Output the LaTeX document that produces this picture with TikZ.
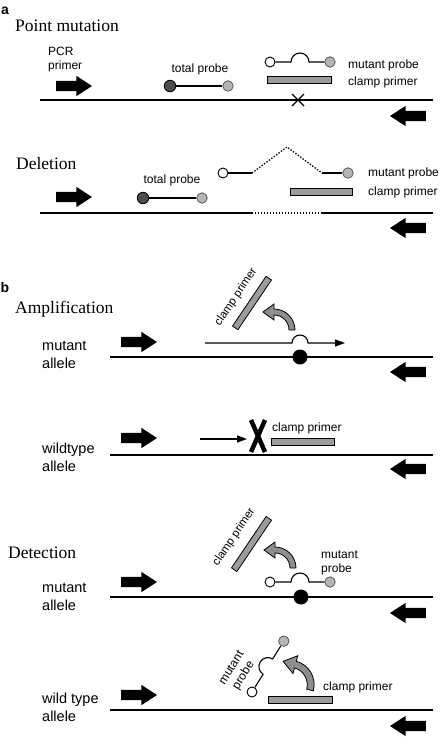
\documentclass[tikz,border=0pt]{standalone}
\usepackage{fontspec}
\setmainfont{Liberation Serif}
\setsansfont{Liberation Sans}
\usetikzlibrary{shapes.arrows,arrows.meta,calc}
\definecolor{clampgray}{HTML}{9C9C9C}
\definecolor{darkprobe}{HTML}{4D4D4D}
\definecolor{lightprobe}{HTML}{B4B4B4}
\definecolor{curvegray}{HTML}{8E8E8E}
\begin{document}
\begin{tikzpicture}[x=1pt,y=1pt,
  lab/.style={font=\sffamily\fontsize{12}{14}\selectfont, inner sep=0pt},
  allele/.style={font=\sffamily\fontsize{14.5}{18}\selectfont, inner sep=0pt, align=left, anchor=west},
  heading/.style={font=\rmfamily\fontsize{17.5}{20}\selectfont, inner sep=0pt, anchor=base west},
  tag/.style={font=\sffamily\bfseries\fontsize{14}{16}\selectfont, inner sep=0pt},
  dna/.style={line width=1.6pt},
  probe/.style={line width=1.1pt},
  dotline/.style={line width=1.3pt, dash pattern=on 1.4pt off 1.6pt},
  bigR/.style={single arrow, fill=black, draw=none, inner sep=5pt, minimum width=0pt,
    minimum height=36pt, single arrow head extend=5pt, single arrow tip angle=66,
    single arrow head indent=0pt},
  bigL/.style={bigR, shape border rotate=180},
  clampbox/.style={draw=black, fill=clampgray, line width=0.8pt, minimum height=7pt, inner sep=0pt},
  ocirc/.style={circle, draw=black, fill=white, line width=0.9pt, minimum size=10pt, inner sep=0pt},
  gcirc/.style={circle, draw=black!70, fill=lightprobe, line width=0.7pt, minimum size=10.5pt, inner sep=0pt},
  dcirc/.style={circle, draw=black, fill=darkprobe, line width=0.8pt, minimum size=11.5pt, inner sep=0pt},
  bdot/.style={circle, fill=black, minimum size=15pt, inner sep=0pt},
  thinarrow/.style={line width=1.1pt, -{Triangle[length=10pt,width=7pt]}},
  pics/mprobe/.style={code={
    \node[ocirc] (-o) at (0,0) {};
    \node[gcirc] (-g) at (60,0) {};
    \draw[probe] (-o) -- (21,0) arc[start angle=180,end angle=0,radius=9] -- (-g);
  }},
  pics/curv/.style={code={
    \filldraw[fill=curvegray, draw=black, line width=0.8pt]
      (0:21) arc[start angle=0,end angle=90,radius=21] -- (90:26) -- (-11,18)
      -- (90:10) -- (90:15) arc[start angle=90,end angle=0,radius=15] -- cycle;
  }}
]
\useasboundingbox (0,0) rectangle (440,-737);

% ---------------- panel a ----------------
\node[tag] (ta) at (5,-11) {a};
\node[heading] (h1) at (15,-31) {Point mutation};
\node[lab, align=left, anchor=west] (pcr) at (48,-60) {PCR\\primer};
\node[bigR] (a1r) at (70,-86) {};
\node[bigL] (a1l) at (412,-116) {};
\coordinate (a1s) at (40,-100);
\coordinate (a1e) at (433,-100);
\draw[dna] (a1s) -- (a1e);
\node[lab] (tp1) at (200,-69) {total probe};
\node[dcirc] (tp1d) at (170,-86) {};
\node[gcirc] (tp1g) at (228,-86) {};
\draw[probe] (tp1d) -- (tp1g);
\pic (mp1) at (270,-62) {mprobe};
\node[clampbox, minimum width=64pt] (cp1) at (299,-80) {};
\node[lab, anchor=west] (mpl1) at (348,-65) {mutant probe};
\node[lab, anchor=west] (cpl1) at (348,-82) {clamp primer};
\coordinate (x1) at (298,-100);
\draw[line width=1.2pt] ($(x1)+(-6,6)$) -- ($(x1)+(6,-6)$) ($(x1)+(-6,-6)$) -- ($(x1)+(6,6)$);

\node[heading] (h2) at (16,-169) {Deletion};
\node[bigR] (a2r) at (70,-197) {};
\node[bigL] (a2l) at (412,-228) {};
\coordinate (a2s) at (40,-213);
\coordinate (a2m1) at (252,-213);
\coordinate (a2m2) at (322,-213);
\coordinate (a2e) at (433,-213);
\draw[dna] (a2s) -- (a2m1);
\draw[dotline] (a2m1) -- (a2m2);
\draw[dna] (a2m2) -- (a2e);
\node[lab] (tp2) at (172,-180) {total probe};
\node[dcirc] (tp2d) at (143,-198) {};
\node[gcirc] (tp2g) at (202,-198) {};
\draw[probe] (tp2d) -- (tp2g);
\node[ocirc] (dmo) at (223,-173) {};
\node[gcirc] (dmg) at (348,-173) {};
\coordinate (dm1) at (252,-173);
\coordinate (dpk) at (287,-147);
\coordinate (dm2) at (322,-173);
\draw[probe] (dmo) -- (dm1);
\draw[dotline] (dm1) -- (dpk) -- (dm2);
\draw[probe] (dm2) -- (dmg);
\node[clampbox, minimum width=62pt] (cp2) at (321,-191.5) {};
\node[lab, anchor=west] (mpl2) at (368,-173) {mutant probe};
\node[lab, anchor=west] (cpl2) at (368,-192) {clamp primer};

% ---------------- panel b ----------------
\node[tag] (tb) at (5,-287) {b};
\node[heading] (h3) at (15,-313) {Amplification};
\node[allele] (al1) at (42,-355) {mutant\\allele};
\node[bigR] (b1r) at (135,-342) {};
\node[bigL] (b1l) at (412,-372) {};
\coordinate (b1s) at (110,-357);
\coordinate (b1e) at (433,-357);
\draw[dna] (b1s) -- (b1e);
\node[bdot] (dot1) at (300,-357) {};
\coordinate (ext1s) at (205,-343);
\coordinate (ext1e) at (345,-343);
\draw[thinarrow] (ext1s) -- (292,-343) arc[start angle=180,end angle=0,radius=8] -- (ext1e);
\node[clampbox, minimum width=60pt, minimum height=6.5pt, rotate=56] (cp3) at (252,-303) {};
\node[lab, font=\sffamily\fontsize{11.5}{13}\selectfont, rotate=56] (cpl3) at (236,-297) {clamp primer};
\pic (cv1) at (274,-330) {curv};

\node[allele] (al2) at (42,-457) {wildtype\\allele};
\node[bigR] (b2r) at (135,-438) {};
\node[bigL] (b2l) at (412,-469) {};
\coordinate (b2s) at (110,-455);
\coordinate (b2e) at (433,-455);
\draw[dna] (b2s) -- (b2e);
\coordinate (ext2s) at (200,-439);
\coordinate (ext2e) at (247,-439);
\draw[thinarrow] (ext2s) -- (ext2e);
\coordinate (bx) at (258,-436);
\draw[line width=4.5pt] ($(bx)+(-7,16)$) -- ($(bx)+(7,-16)$) ($(bx)+(-7,-16)$) -- ($(bx)+(7,16)$);
\node[clampbox, minimum width=63pt] (cp4) at (302.5,-441.5) {};
\node[lab, anchor=west] (cpl4) at (272,-428) {clamp primer};

\node[heading] (h4) at (8,-558) {Detection};
\node[allele] (al3) at (42,-597) {mutant\\allele};
\node[bigR] (b3r) at (135,-582) {};
\node[bigL] (b3l) at (412,-613) {};
\coordinate (b3s) at (110,-597);
\coordinate (b3e) at (433,-597);
\draw[dna] (b3s) -- (b3e);
\node[bdot] (dot2) at (301,-597) {};
\pic (mp3) at (270,-582) {mprobe};
\node[lab, align=left, anchor=west] (mpl3) at (321,-563) {mutant\\probe};
\node[clampbox, minimum width=62pt, minimum height=6.5pt, rotate=56] (cp5) at (251.5,-544) {};
\node[lab, font=\sffamily\fontsize{11.5}{13}\selectfont, rotate=56] (cpl5) at (234,-537) {clamp primer};
\pic (cv2) at (275,-568) {curv};

\node[allele] (al4) at (42,-707) {wild type\\allele};
\node[bigR] (b4r) at (135,-695) {};
\node[bigL] (b4l) at (412,-726) {};
\coordinate (b4s) at (110,-710);
\coordinate (b4e) at (433,-710);
\draw[dna] (b4s) -- (b4e);
\pic[rotate=58] (mp4) at (252,-692) {mprobe};
\node[lab, align=center, rotate=58] (mpl4) at (238,-672) {mutant\\probe};
\node[clampbox, minimum width=64pt] (cp6) at (300,-700) {};
\node[lab, anchor=west] (cpl6) at (323,-687) {clamp primer};
\pic[rotate=-15, scale=1.15] (cv3) at (290,-684.6) {curv};
\end{tikzpicture}
\end{document}
